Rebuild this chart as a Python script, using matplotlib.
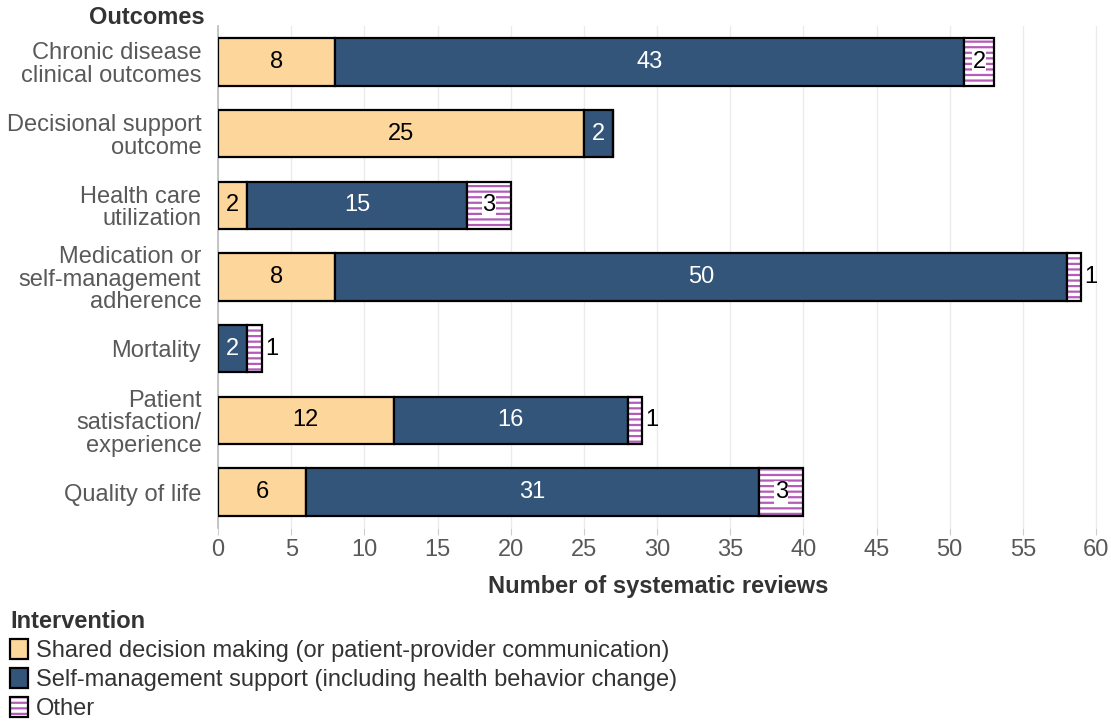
import matplotlib
matplotlib.use("Agg")
import matplotlib.pyplot as plt
from matplotlib.patches import Patch
from matplotlib.legend_handler import HandlerTuple
import numpy as np

plt.rcParams['font.family'] = ['Liberation Sans', 'DejaVu Sans']
plt.rcParams['hatch.linewidth'] = 1.6

categories = [
    "Chronic disease\nclinical outcomes",
    "Decisional support\noutcome",
    "Health care\nutilization",
    "Medication or\nself-management\nadherence",
    "Mortality",
    "Patient\nsatisfaction/\nexperience",
    "Quality of life",
]
shared = [8, 25, 2, 8, 0, 12, 6]
selfmgmt = [43, 2, 15, 50, 2, 16, 31]
other = [2, 0, 3, 1, 1, 1, 3]
series_names = [
    "Shared decision making (or patient-provider communication)",
    "Self-management support (including health behavior change)",
    "Other",
]
xticks = list(range(0, 61, 5))

C_SHARED = "#FDD69C"
C_SELF = "#34557A"
C_OTHER = "#B35DB8"
TXT = "#595959"
FS = 17

fig = plt.figure(figsize=(11.11, 7.21), dpi=100)
ax = fig.add_axes([218/1111, 1-528/721, (1099-218)/1111, (528-26)/721])

y = np.arange(len(categories))
h = 0.66
shared = np.array(shared); selfmgmt = np.array(selfmgmt); other = np.array(other)

ax.barh(y, shared, height=h, color=C_SHARED, edgecolor="black", linewidth=1.6, zorder=3)
ax.barh(y, selfmgmt, left=shared, height=h, color=C_SELF, edgecolor="black", linewidth=1.6, zorder=3)
ax.barh(y, other, left=shared+selfmgmt, height=h, color="white", edgecolor=C_OTHER, hatch="---", linewidth=0, zorder=3)
ax.barh(y, other, left=shared+selfmgmt, height=h, fill=False, edgecolor="black", linewidth=1.6, zorder=4)

for i in range(len(categories)):
    if shared[i] > 0:
        ax.text(shared[i]/2, y[i], str(shared[i]), ha="center", va="center", fontsize=FS, color="black", zorder=5)
    if selfmgmt[i] > 0:
        ax.text(shared[i]+selfmgmt[i]/2, y[i], str(selfmgmt[i]), ha="center", va="center", fontsize=FS, color="white", zorder=5)
    if other[i] > 1:
        ax.text(shared[i]+selfmgmt[i]+other[i]/2, y[i], str(other[i]), ha="center", va="center", fontsize=FS, color="black", zorder=5,
                bbox=dict(facecolor="white", edgecolor="none", pad=0.3))
    elif other[i] == 1:
        ax.text(shared[i]+selfmgmt[i]+other[i]+0.2, y[i], str(other[i]), ha="left", va="center", fontsize=FS, color="black", zorder=5)

ax.set_ylim(len(categories)-0.5, -0.5)
ax.set_xlim(0, 60.2)
ax.set_yticks(y)
ax.set_yticklabels(categories, fontsize=FS, color=TXT, linespacing=1.03)
ax.set_xticks(xticks)
ax.set_xticklabels([str(t) for t in xticks], fontsize=FS, color=TXT)
ax.tick_params(axis="y", length=0, pad=12)
ax.tick_params(axis="x", length=5, color="#cccccc", pad=3)
for s in ["top", "right", "bottom"]:
    ax.spines[s].set_visible(False)
ax.spines["left"].set_color("#bbbbbb")
ax.spines["left"].set_linewidth(1.2)
ax.grid(axis="x", color="#ebebeb", linewidth=1, zorder=0)
ax.set_axisbelow(True)
ax.set_xlabel("Number of systematic reviews", fontsize=FS, fontweight="bold", color="#333333", labelpad=10)

fig.text(205/1111, 1-18/721, "Outcomes", ha="right", va="center", fontsize=FS, fontweight="bold", color="#333333")

h1 = Patch(facecolor=C_SHARED, edgecolor="black", linewidth=1.6)
h2 = Patch(facecolor=C_SELF, edgecolor="black", linewidth=1.6)
h3a = Patch(facecolor="white", edgecolor=C_OTHER, hatch="---", linewidth=0)
h3b = Patch(fill=False, edgecolor="black", linewidth=1.6)
leg = fig.legend([h1, h2, (h3a, h3b)], series_names,
                 handler_map={tuple: HandlerTuple(ndivide=1, pad=0)},
                 loc="upper left", bbox_to_anchor=(8/1111, 1-608/721), frameon=False,
                 title="Intervention", alignment="left", fontsize=FS,
                 title_fontproperties={"weight": "bold", "size": FS},
                 handlelength=0.75, handleheight=0.9, handletextpad=0.35,
                 labelspacing=0.25, borderaxespad=0, borderpad=0.1)
for t in leg.get_texts():
    t.set_color("#333333")
leg.get_title().set_color("#333333")

fig.savefig("out.png", dpi=100)
